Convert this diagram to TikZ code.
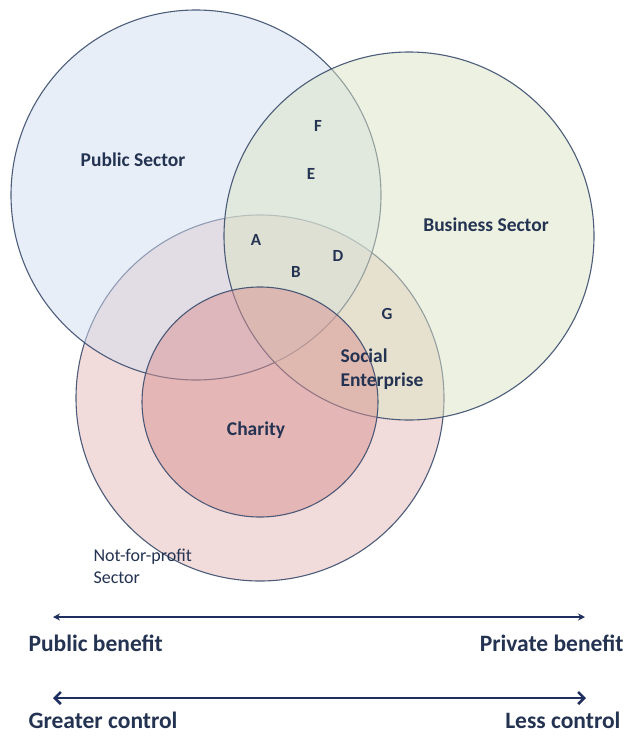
\documentclass[tikz,border=0pt]{standalone}
\usepackage{fontspec}
\setmainfont{Carlito}
\usetikzlibrary{arrows.meta}
\definecolor{linec}{HTML}{3B4D6E}
\definecolor{txtc}{HTML}{243352}
\definecolor{pubc}{HTML}{D3DEF0}
\definecolor{busc}{HTML}{DBE4C4}
\definecolor{npc}{HTML}{F2DCDB}
\definecolor{chc}{HTML}{DA9292}
\definecolor{arrc}{HTML}{1F2F5F}
\tikzset{
  sector/.style={draw=linec,line width=1.1pt,fill opacity=0.5,draw opacity=0.9},
  lbl/.style={text=txtc,font=\bfseries\fontsize{19.5}{24}\selectfont},
  letter/.style={text=txtc,font=\bfseries\fontsize{17}{20}\selectfont},
  axis/.style={text=txtc,font=\bfseries\fontsize{23.5}{26}\selectfont},
  thinaxis/.style={draw=arrc,line width=1.5pt,{Stealth[length=7pt,width=7pt]}-{Stealth[length=7pt,width=7pt]}},
  thickaxis/.style={draw=arrc,line width=2.6pt,{Straight Barb[length=6pt,width=12pt]}-{Straight Barb[length=6pt,width=12pt]}}
}
\begin{document}
\begin{tikzpicture}[x=1pt,y=-1pt]
\useasboundingbox[fill=white] (0,0) rectangle (624,736);
\fill[npc,sector,fill opacity=1] (260,398) ellipse [x radius=184pt,y radius=183pt];
\fill[pubc,sector] (196,195) ellipse [x radius=185pt,y radius=185pt];
\fill[busc,sector] (409,236) ellipse [x radius=185pt,y radius=184pt];
\fill[chc,sector] (260,402) ellipse [x radius=118pt,y radius=115pt];
\node[lbl] (pub) at (133,160) {Public Sector};
\node[lbl] (bus) at (486,225) {Business Sector};
\node[letter] (f) at (318,126) {F};
\node[letter] (e) at (311,174) {E};
\node[letter] (a) at (256,240) {A};
\node[letter] (b) at (296,272) {B};
\node[letter] (d) at (338,256) {D};
\node[letter] (g) at (387,314) {G};
\node[lbl,align=left,anchor=west] (se) at (337,369) {Social\\Enterprise};
\node[lbl] (ch) at (256,430) {Charity};
\node[text=txtc,font=\fontsize{18}{22}\selectfont,align=left,anchor=west] (nfp) at (90,566) {Not-for-profit\\Sector};
\coordinate (pbl) at (53,617);
\coordinate (pbr) at (585,617);
\coordinate (gcl) at (53,698);
\coordinate (gcr) at (586,698);
\draw[thinaxis] (pbl) -- (pbr);
\draw[thickaxis] (gcl) -- (gcr);
\node[axis,anchor=west] (pb) at (25,643) {Public benefit};
\node[axis,anchor=east] (prb) at (627,643) {Private benefit};
\node[axis,anchor=west] (gc) at (25,720) {Greater control};
\node[axis,anchor=east] (lc) at (624,720) {Less control};
\end{tikzpicture}
\end{document}
